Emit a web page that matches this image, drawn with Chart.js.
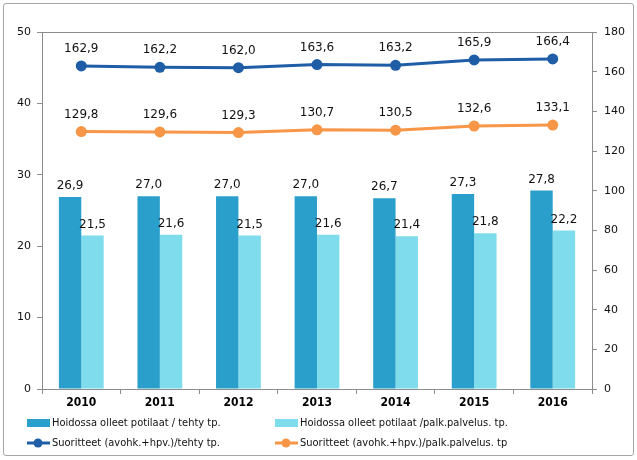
<!DOCTYPE html>
<html>
<head>
<meta charset="utf-8">
<script src="https://cdn.jsdelivr.net/npm/chart.js@4/dist/chart.umd.min.js"></script>
<style>
  html, body { margin: 0; padding: 0; background: #fff; }
  #wrap { position: relative; width: 637px; height: 460px; }
  #frame { position: absolute; left: 3px; top: 3px; width: 629px; height: 451px;
           border: 1px solid #a6a6a6; border-radius: 3px; pointer-events: none; }
</style>
</head>
<body>
<div id="wrap">
  <canvas id="chart" width="637" height="460"></canvas>
  <div id="frame"></div>
</div>
<script>
// Vuodet ja sarjat
const vuodet = ['2010', '2011', '2012', '2013', '2014', '2015', '2016'];
const potilaatTehty = [26.9, 27.0, 27.0, 27.0, 26.7, 27.3, 27.8];
const potilaatPalk = [21.5, 21.6, 21.5, 21.6, 21.4, 21.8, 22.2];
const suoritteetTehty = [162.9, 162.2, 162.0, 163.6, 163.2, 165.9, 166.4];
const suoritteetPalk = [129.8, 129.6, 129.3, 130.7, 130.5, 132.6, 133.1];

const vasenTicks = [0, 10, 20, 30, 40, 50];
const oikeaTicks = [0, 20, 40, 60, 80, 100, 120, 140, 160, 180];

const FONT = 'DejaVu Sans';
const FONT_KAPEA = 'DejaVu Sans Condensed';
const AXIS = '#8c8c8c';

const fmt = v => v.toFixed(1).replace('.', ',');

// Arvojen tekstit pylväiden ja pisteiden yläpuolelle
const arvoTekstit = {
  id: 'arvoTekstit',
  afterDatasetsDraw(chart) {
    const ctx = chart.ctx;
    ctx.save();
    ctx.font = '12px "' + FONT + '"';
    ctx.fillStyle = '#111';
    ctx.textAlign = 'center';
    ctx.textBaseline = 'bottom';
    chart.data.datasets.forEach((ds, i) => {
      const meta = chart.getDatasetMeta(i);
      meta.data.forEach((el, j) => {
        const off = ds.type === 'line' ? 11 : 5;
        ctx.fillText(fmt(ds.data[j]), el.x, el.y - off);
      });
    });
    ctx.restore();
  }
};

// Kuvaalueen yläreuna ja selite kahteen sarakkeeseen
const kehys = {
  id: 'kehys',
  afterDraw(chart) {
    const ctx = chart.ctx;
    const a = chart.chartArea;
    ctx.save();
    ctx.strokeStyle = AXIS;
    ctx.lineWidth = 1;
    ctx.beginPath();
    ctx.moveTo(a.left, a.top + 0.5);
    ctx.lineTo(a.right, a.top + 0.5);
    ctx.stroke();

    const cols = [27, 275];
    const rows = [423, 443];
    ctx.font = '11px "' + FONT_KAPEA + '"';
    ctx.textBaseline = 'middle';
    ctx.textAlign = 'left';
    chart.data.datasets.forEach((ds, i) => {
      const x = cols[i % 2];
      const y = rows[Math.floor(i / 2)];
      if (ds.type === 'line') {
        ctx.strokeStyle = ds.borderColor;
        ctx.lineWidth = 3;
        ctx.beginPath();
        ctx.moveTo(x, y);
        ctx.lineTo(x + 23, y);
        ctx.stroke();
        ctx.fillStyle = ds.borderColor;
        ctx.beginPath();
        ctx.arc(x + 11, y, 4.5, 0, Math.PI * 2);
        ctx.fill();
      } else {
        ctx.fillStyle = ds.backgroundColor;
        ctx.fillRect(x, y - 4, 23, 8);
      }
      ctx.fillStyle = '#111';
      ctx.fillText(ds.label, x + 25, y);
    });
    ctx.restore();
  }
};

new Chart(document.getElementById('chart'), {
  data: {
    labels: vuodet,
    datasets: [
      {
        type: 'bar',
        label: 'Hoidossa olleet potilaat / tehty tp.',
        data: potilaatTehty,
        backgroundColor: '#2b9fcc',
        yAxisID: 'y',
        order: 2
      },
      {
        type: 'bar',
        label: 'Hoidossa olleet potilaat /palk.palvelus. tp.',
        data: potilaatPalk,
        backgroundColor: '#7edcec',
        yAxisID: 'y',
        order: 2
      },
      {
        type: 'line',
        label: 'Suoritteet (avohk.+hpv.)/tehty tp.',
        data: suoritteetTehty,
        borderColor: '#1f5ea6',
        backgroundColor: '#1f5ea6',
        borderWidth: 3,
        pointRadius: 5.5,
        pointBackgroundColor: '#1f5ea6',
        pointBorderWidth: 0,
        yAxisID: 'y1',
        order: 1
      },
      {
        type: 'line',
        label: 'Suoritteet (avohk.+hpv.)/palk.palvelus. tp',
        data: suoritteetPalk,
        borderColor: '#f79646',
        backgroundColor: '#f79646',
        borderWidth: 3,
        pointRadius: 5.5,
        pointBackgroundColor: '#f79646',
        pointBorderWidth: 0,
        yAxisID: 'y1',
        order: 1
      }
    ]
  },
  options: {
    responsive: false,
    animation: false,
    devicePixelRatio: 1,
    layout: { padding: { top: 32, left: 0, right: 0, bottom: 0 } },
    datasets: { bar: { categoryPercentage: 0.57, barPercentage: 1 } },
    plugins: {
      legend: { display: false },
      tooltip: { enabled: false }
    },
    scales: {
      x: {
        grid: { drawOnChartArea: false, color: AXIS, tickLength: 5, offset: true },
        border: { color: AXIS },
        ticks: { color: '#000', font: { family: FONT_KAPEA, size: 12, weight: 'bold' }, padding: 2 },
        afterFit: s => { s.height = 460 - 389; }
      },
      y: {
        position: 'left',
        min: 0, max: 50,
        afterBuildTicks: s => { s.ticks = vasenTicks.map(v => ({ value: v })); },
        grid: { drawOnChartArea: false, color: AXIS, tickLength: 5 },
        border: { color: AXIS },
        ticks: { color: '#111', font: { family: FONT, size: 11 }, padding: 6 },
        afterFit: s => { s.width = 42; }
      },
      y1: {
        position: 'right',
        min: 0, max: 180,
        afterBuildTicks: s => { s.ticks = oikeaTicks.map(v => ({ value: v })); },
        grid: { drawOnChartArea: false, color: AXIS, tickLength: 5 },
        border: { color: AXIS },
        ticks: { color: '#111', font: { family: FONT, size: 11 }, padding: 7 },
        afterFit: s => { s.width = 637 - 592; }
      }
    }
  },
  plugins: [arvoTekstit, kehys]
});
</script>
</body>
</html>
